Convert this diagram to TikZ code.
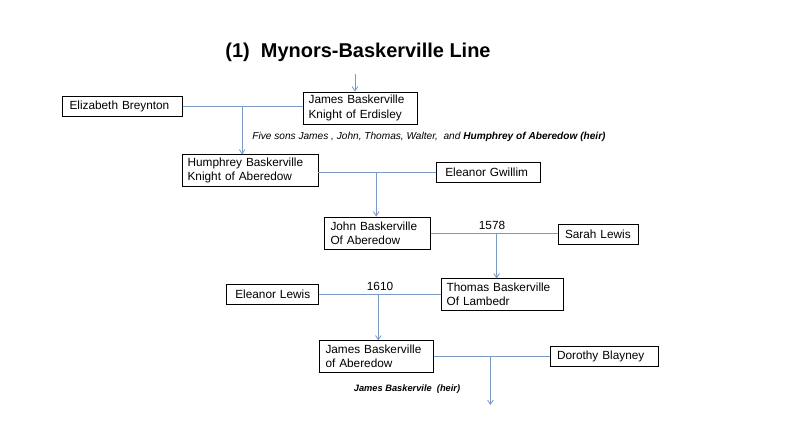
\documentclass[tikz,border=0pt]{standalone}
\usepackage{fontspec}
\setmainfont{Liberation Sans}
\usetikzlibrary{positioning,arrows.meta}
\definecolor{linkblue}{HTML}{7B9BC4}
\tikzset{
  person/.style={draw, line width=0.6pt, font=\fontsize{8.4}{10.2}\selectfont, align=left, inner sep=0pt, minimum height=#1},
  person/.default=0.5cm,
  link/.style={draw=linkblue, line width=0.6pt},
  down/.style={link, -{Straight Barb[length=3pt,width=4pt]}},
  year/.style={font=\fontsize{8.4}{10}\selectfont, above, inner sep=1pt}
}
\begin{document}
\begin{tikzpicture}[x=0.025cm,y=-0.025cm]
  \useasboundingbox[fill=white] (0,0) rectangle (800,435);

  \node[font=\bfseries\fontsize{14.2}{16}\selectfont] (title) at (358,52) {(1)\ \ Mynors-Baskerville Line};

  % boxes
  \node[person=0.8cm, text width=2.85cm] (james) at (360,108) {\hspace{4pt}James Baskerville\\\hspace{4pt}Knight of Erdisley};
  \node[person, text width=3.0cm] (eliz) at (122.5,106) {\hspace{5pt}Elizabeth Breynton};
  \node[person=0.78cm, text width=3.4cm] (humph) at (250,170.5) {\hspace{4pt}Humphrey Baskerville\\\hspace{4pt}Knight of Aberedow};
  \node[person=0.48cm, text width=2.58cm] (gwill) at (488.5,172.5) {\hspace{6pt}Eleanor Gwillim};
  \node[person=0.8cm, text width=2.63cm] (john) at (377.5,233) {\hspace{4pt}John Baskerville\\\hspace{4pt}Of Aberedow};
  \node[person=0.48cm, text width=2.0cm] (sarah) at (598,234.5) {\hspace{5pt}Sarah Lewis};
  \node[person=0.78cm, text width=3.05cm] (thomas) at (502,294.5) {\hspace{4pt}Thomas Baskerville\\\hspace{4pt}Of Lambedr};
  \node[person=0.48cm, text width=2.28cm] (elewis) at (272.5,294.5) {\hspace{6pt}Eleanor Lewis};
  \node[person=0.78cm, text width=2.83cm] (james2) at (376.5,356.5) {\hspace{4pt}James Baskerville\\\hspace{4pt}of Aberedow};
  \node[person=0.48cm, text width=2.7cm] (doro) at (604,356.5) {\hspace{5pt}Dorothy Blayney};

  % notes
  \node[font=\itshape\fontsize{7.2}{9}\selectfont] (sons) at (429,137) {Five sons James , John, Thomas, Walter,\ \ and \textbf{Humphrey of Aberedow (heir)}};
  \node[font=\bfseries\itshape\fontsize{6.6}{8}\selectfont] (heir) at (407,389) {James Baskervile\ \ (heir)};

  % connectors
  \coordinate (top) at (355,74);
  \draw[down] (top) -- (top |- james.north);

  \draw[link] (eliz.east) -- (eliz.east -| james.west) coordinate[pos=0.495] (m1);
  \draw[down] (m1) -- (m1 |- humph.north);

  \draw[link] (humph.east |- gwill.west) -- (gwill.west) coordinate[pos=0.49] (m2);
  \draw[down] (m2) -- (m2 |- john.north);

  \draw[link] (john.east) -- (john.east -| sarah.west) coordinate[pos=0.52] (m3);
  \node[year] (y1578) at (492,231) {1578};
  \draw[down] (m3) -- (m3 |- thomas.north);

  \draw[link] (elewis.east) -- (thomas.west) coordinate[pos=0.49] (m4);
  \node[year] (y1610) at (380,292) {1610};
  \draw[down] (m4) -- (m4 |- james2.north);

  \draw[link] (james2.east) -- (doro.west) coordinate[pos=0.49] (m5);
  \coordinate (end) at (491,405);
  \draw[down] (m5) -- (m5 |- end);
\end{tikzpicture}
\end{document}
